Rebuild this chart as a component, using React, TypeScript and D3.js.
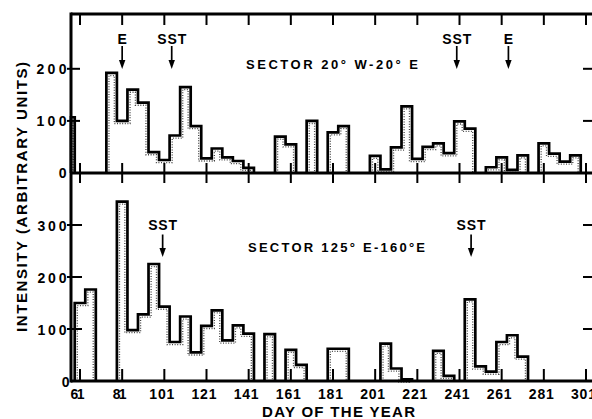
import React from "react";
import * as d3 from "d3";

// 5-day bins, identified by their central day
const binCenters = [
  56, 61, 66, 71, 76, 81, 86, 91, 96, 101, 106, 111, 116, 121, 126, 131, 136, 141, 146, 151,
  156, 161, 166, 171, 176, 181, 186, 191, 196, 201, 206, 211, 216, 221, 226, 231, 236, 241,
  246, 251, 256, 261, 266, 271, 276, 281, 286, 291, 296,
];

// Sector 20° W - 20° E
const upperValues = [
  107, 0, 0, 0, 192, 100, 160, 135, 40, 25, 72, 165, 90, 28, 47, 30, 23, 10, 0, 0,
  70, 55, 0, 100, 0, 78, 90, 0, 0, 33, 7, 49, 128, 27, 50, 57, 38, 99, 85,
  0, 11, 30, 6, 34, 0, 57, 37, 22, 34,
];

// Sector 125° E - 160° E
const lowerValues = [
  0, 150, 176, 0, 0, 345, 98, 128, 225, 143, 75, 124, 55, 106, 136, 78, 107, 91, 0, 90,
  0, 60, 31, 0, 0, 62, 62, 0, 0, 0, 72, 24, 3, 0, 0, 58, 10, 0, 157,
  28, 18, 75, 88, 47, 0, 0, 0, 0, 0,
];

const xTickDays = [61, 81, 101, 121, 141, 161, 181, 201, 221, 241, 261, 281, 301];
const xTickLabels = ["61", "81", "101", "121", "141", "161", "181", "201", "221", "241", "261", "281", "301"];
const upperYTicks = [0, 100, 200];
const lowerYTicks = [0, 100, 200, 300];

const upperEventLabels = ["E", "SST", "SST", "E"];
const upperEventDays = [81, 104.5, 239.7, 264.2];
const lowerEventLabels = ["SST", "SST"];
const lowerEventDays = [100.2, 246.5];

const upperTitle = "SECTOR 20° W-20° E";
const lowerTitle = "SECTOR 125° E-160°E";
const xTitle = "DAY OF THE YEAR";
const yTitle = "INTENSITY (ARBITRARY UNITS)";

const W = 592;
const H = 419;
const frameLeft = 71;
const frameRight = 595;
const frameTop = 14;
const midY = 173;
const bottomY = 381;
const FONT = "'Liberation Sans', Arial, sans-serif";

const xScale = d3.scaleLinear().domain([61, 301]).range([80, 586]);
const yUpper = d3.scaleLinear().domain([0, 200]).range([midY, 68.8]);
const yLower = d3.scaleLinear().domain([0, 300]).range([bottomY, 225]);
const domainStart = xScale.invert(frameLeft);

function binStart(i: number) {
  return xScale(Math.max(binCenters[i] - 2.5, domainStart));
}
function binEnd(i: number) {
  return xScale(binCenters[i] + 2.5);
}

function outlinePath(values: number[], y: d3.ScaleLinear<number, number>, inset: number) {
  const n = values.length;
  const base = y(0);
  let d = "";
  let i = 0;
  while (i < n) {
    if (values[i] <= 0) {
      i++;
      continue;
    }
    let j = i;
    while (j < n && values[j] > 0) j++;
    const x0 = binStart(i) + inset;
    d += `M${x0},${base}L${x0},${y(values[i]) + inset}`;
    for (let k = i; k < j - 1; k++) {
      const off = values[k + 1] > values[k] ? inset : -inset;
      const xb = binEnd(k) + off;
      d += `L${xb},${y(values[k]) + inset}L${xb},${y(values[k + 1]) + inset}`;
    }
    const xe = binEnd(j - 1) - inset;
    d += `L${xe},${y(values[j - 1]) + inset}L${xe},${base}`;
    i = j;
  }
  return d;
}

function Arrow({ x, label, textY, y0, tip }: { x: number; label: string; textY: number; y0: number; tip: number }) {
  return (
    <g>
      <text
        x={x}
        y={textY}
        textAnchor="middle"
        fontFamily={FONT}
        fontWeight="bold"
        fontSize={14}
        textLength={label.length > 1 ? 29 : undefined}
        lengthAdjust="spacing"
      >
        {label}
      </text>
      <line x1={x} x2={x} y1={y0} y2={tip - 6} stroke="#000" strokeWidth={1.7} />
      <path d={`M${x - 3.2},${tip - 9}L${x + 3.2},${tip - 9}L${x},${tip}Z`} fill="#000" />
    </g>
  );
}

export default function App() {
  const upperOutline = outlinePath(upperValues, yUpper, 0);
  const upperDots = outlinePath(upperValues, yUpper, 2.6);
  const lowerOutline = outlinePath(lowerValues, yLower, 0);
  const lowerDots = outlinePath(lowerValues, yLower, 2.6);

  return (
    <svg
      width={W}
      height={H}
      style={{ position: "absolute", left: 0, top: 0, background: "#fff" }}
    >
      <rect x={0} y={0} width={W} height={H} fill="#fff" />

      {/* dotted stipple inside bars */}
      <path d={upperDots} fill="none" stroke="#444" strokeWidth={1.3} strokeDasharray="1 1.6" />
      <path d={lowerDots} fill="none" stroke="#444" strokeWidth={1.3} strokeDasharray="1 1.6" />

      {/* bar outlines */}
      <path d={upperOutline} fill="none" stroke="#000" strokeWidth={2.7} strokeLinejoin="miter" />
      <path d={lowerOutline} fill="none" stroke="#000" strokeWidth={2.7} strokeLinejoin="miter" />

      {/* frame */}
      <line x1={frameLeft} x2={frameRight} y1={frameTop} y2={frameTop} stroke="#000" strokeWidth={3} />
      <line x1={frameLeft} x2={frameRight} y1={midY} y2={midY} stroke="#000" strokeWidth={3} />
      <line x1={frameLeft} x2={frameRight} y1={bottomY} y2={bottomY} stroke="#000" strokeWidth={3} />
      <line x1={frameLeft} x2={frameLeft} y1={frameTop - 1.5} y2={bottomY + 1.5} stroke="#000" strokeWidth={3} />
      <line x1={frameRight} x2={frameRight} y1={frameTop - 1.5} y2={bottomY + 1.5} stroke="#000" strokeWidth={3} />

      {/* x ticks */}
      {xTickDays.map((d) => {
        const x = xScale(d);
        return (
          <g key={"xt" + d}>
            <line x1={x} x2={x} y1={frameTop} y2={frameTop + 11} stroke="#000" strokeWidth={2} />
            <line x1={x} x2={x} y1={midY - 10} y2={midY + 10} stroke="#000" strokeWidth={2} />
            <line x1={x} x2={x} y1={bottomY - 12} y2={bottomY} stroke="#000" strokeWidth={2} />
          </g>
        );
      })}
      {xTickDays.map((d, i) => (
        <text
          key={"xl" + d}
          x={xScale(d) - 2.5}
          y={398.5}
          textAnchor="middle"
          fontFamily={FONT}
          fontWeight="bold"
          fontSize={14}
          textLength={xTickLabels[i].length > 2 ? 25 : 14}
          lengthAdjust="spacing"
        >
          {xTickLabels[i]}
        </text>
      ))}

      {/* y ticks upper */}
      {upperYTicks.map((v) => (
        <g key={"yu" + v}>
          {v > 0 && (
            <>
              <line x1={frameLeft - 4} x2={frameLeft + 9} y1={yUpper(v)} y2={yUpper(v)} stroke="#000" strokeWidth={2} />
              <line x1={frameRight - 12} x2={frameRight} y1={yUpper(v)} y2={yUpper(v)} stroke="#000" strokeWidth={2} />
            </>
          )}
          <text
            x={66.5}
            y={yUpper(v) + 5}
            textAnchor="end"
            fontFamily={FONT}
            fontWeight="bold"
            fontSize={14}
            textLength={v > 0 ? 30 : undefined}
            lengthAdjust="spacing"
          >
            {v}
          </text>
        </g>
      ))}
      {/* y ticks lower */}
      {lowerYTicks.map((v) => (
        <g key={"yl" + v}>
          {v > 0 && (
            <>
              <line x1={frameLeft - 4} x2={frameLeft + 11} y1={yLower(v)} y2={yLower(v)} stroke="#000" strokeWidth={2} />
              <line x1={frameRight - 12} x2={frameRight} y1={yLower(v)} y2={yLower(v)} stroke="#000" strokeWidth={2} />
            </>
          )}
          <text
            x={v > 0 ? 66.5 : 69.5}
            y={yLower(v) + 5.5}
            textAnchor="end"
            fontFamily={FONT}
            fontWeight="bold"
            fontSize={14}
            textLength={v > 0 ? 29 : undefined}
            lengthAdjust="spacing"
          >
            {v}
          </text>
        </g>
      ))}

      {/* event arrows */}
      {upperEventDays.map((d, i) => (
        <Arrow key={"ue" + i} x={xScale(d)} label={upperEventLabels[i]} textY={43.5} y0={46} tip={69} />
      ))}
      {lowerEventDays.map((d, i) => (
        <Arrow key={"le" + i} x={xScale(d)} label={lowerEventLabels[i]} textY={229.5} y0={234.5} tip={257} />
      ))}

      {/* sector titles */}
      <text x={246} y={69} fontFamily={FONT} fontWeight="bold" fontSize={13} textLength={172} lengthAdjust="spacing">
        {upperTitle}
      </text>
      <text x={248} y={252} fontFamily={FONT} fontWeight="bold" fontSize={13} textLength={177} lengthAdjust="spacing">
        {lowerTitle}
      </text>

      {/* axis titles */}
      <text
        x={338.5}
        y={417}
        textAnchor="middle"
        fontFamily={FONT}
        fontWeight="bold"
        fontSize={15}
        textLength={153}
        lengthAdjust="spacing"
      >
        {xTitle}
      </text>
      <text
        transform="translate(27,197) rotate(-90)"
        textAnchor="middle"
        fontFamily={FONT}
        fontWeight="bold"
        fontSize={15}
        textLength={270}
        lengthAdjust="spacing"
      >
        {yTitle}
      </text>
    </svg>
  );
}
